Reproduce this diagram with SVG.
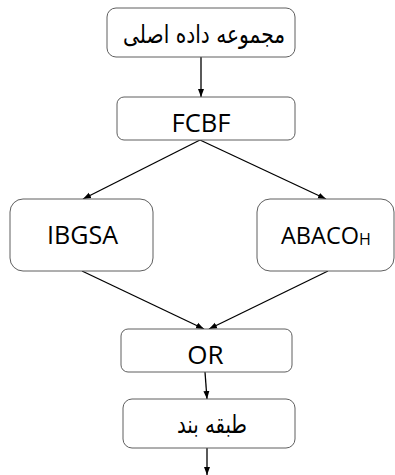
<svg xmlns="http://www.w3.org/2000/svg" width="395" height="475" viewBox="0 0 395 475">
<defs>
<style>
.box{fill:#fff;stroke:#5f5f5f;stroke-width:1}
.lat{font-family:"Open Sans","Noto Sans",sans-serif;font-size:26px;fill:#000;text-anchor:middle}
.fa{font-family:"DejaVu Sans","Noto Sans",sans-serif;font-size:25px;fill:#000;text-anchor:middle}
.con{stroke:#000;stroke-width:1.3;fill:none;marker-end:url(#ah)}
</style>
<marker id="ah" markerUnits="userSpaceOnUse" markerWidth="8" markerHeight="8" viewBox="0 0 8 8" refX="8" refY="4" orient="auto">
<path d="M0,1 L8,4 L0,7 Z" fill="#000"/>
</marker>
</defs>
<g id="connectors">
<line class="con" x1="201" y1="57" x2="201" y2="97"/>
<line class="con" x1="200" y1="140" x2="83" y2="199"/>
<line class="con" x1="200" y1="140" x2="326" y2="199"/>
<line class="con" x1="82" y1="271" x2="204" y2="329"/>
<line class="con" x1="328" y1="271" x2="209" y2="329"/>
<line class="con" x1="205" y1="372" x2="207" y2="399"/>
<line class="con" x1="207" y1="448" x2="207" y2="475"/>
</g>
<g id="dataset">
<rect class="box" x="107" y="8" width="188" height="49" rx="9"/>
<text class="fa" x="204" y="43" direction="rtl" textLength="162" lengthAdjust="spacingAndGlyphs">مجموعه داده اصلی</text>
</g>
<g id="fcbf">
<rect class="box" x="117" y="97" width="178" height="43" rx="7"/>
<text class="lat" x="201" y="132" textLength="59" lengthAdjust="spacingAndGlyphs">FCBF</text>
</g>
<g id="ibgsa">
<rect class="box" x="10" y="199" width="143" height="72" rx="13"/>
<text class="lat" x="82.5" y="244" textLength="71" lengthAdjust="spacingAndGlyphs">IBGSA</text>
</g>
<g id="abaco">
<rect class="box" x="257" y="199" width="137" height="72" rx="13"/>
<text class="lat" x="281" y="244" style="text-anchor:start;font-size:23.5px">ABACO<tspan font-size="16" dy="1">H</tspan></text>
</g>
<g id="or">
<rect class="box" x="121" y="329" width="171" height="43" rx="7"/>
<text class="lat" x="205.5" y="364">OR</text>
</g>
<g id="classifier">
<rect class="box" x="123" y="399" width="172" height="49" rx="9"/>
<text class="fa" x="212" y="433" direction="rtl" textLength="70" lengthAdjust="spacingAndGlyphs">طبقه بند</text>
</g>
</svg>
